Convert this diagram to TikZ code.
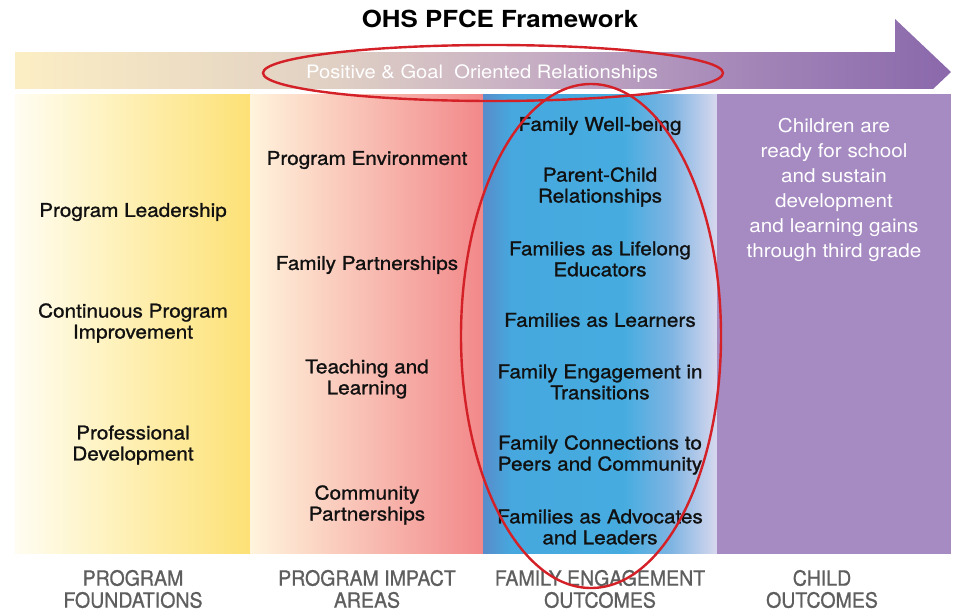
\documentclass[tikz,border=0pt]{standalone}
\usepackage{fontspec}
\setmainfont{TeX Gyre Heros}
\newfontfamily\medfont[FakeStretch=1.09, FakeBold=1.2]{TeX Gyre Heros}
\newfontfamily\widefont[FakeStretch=1.09]{TeX Gyre Heros}
\newfontfamily\condfont[FakeStretch=0.93, FakeBold=0.8]{TeX Gyre Heros}
\newfontfamily\titlefont[FakeStretch=1.1]{TeX Gyre Heros}
\usetikzlibrary{shapes.geometric}
\definecolor{txt}{HTML}{111111}
\definecolor{lbl}{HTML}{5E5E5E}
\definecolor{ring}{HTML}{D42027}
\definecolor{colpur}{HTML}{A68AC2}
% TikZ maps the path bounding box onto 25bp..75bp of the shading
\pgfdeclarehorizontalshading{arrowshade}{100bp}{color(0bp)=({rgb,255:red,252;green,238;blue,196}); color(25bp)=({rgb,255:red,252;green,238;blue,196}); color(42bp)=({rgb,255:red,224;green,208;blue,196}); color(52bp)=({rgb,255:red,200;green,176;blue,196}); color(64bp)=({rgb,255:red,164;green,134;blue,184}); color(75bp)=({rgb,255:red,138;green,104;blue,171}); color(100bp)=({rgb,255:red,138;green,104;blue,171})}
\pgfdeclarehorizontalshading{yelshade}{100bp}{color(0bp)=({rgb,255:red,255;green,253;blue,242}); color(25bp)=({rgb,255:red,255;green,253;blue,242}); color(45bp)=({rgb,255:red,254;green,242;blue,190}); color(75bp)=({rgb,255:red,253;green,225;blue,118}); color(100bp)=({rgb,255:red,253;green,225;blue,118})}
\pgfdeclarehorizontalshading{redshade}{100bp}{color(0bp)=({rgb,255:red,255;green,244;blue,220}); color(25bp)=({rgb,255:red,255;green,244;blue,220}); color(75bp)=({rgb,255:red,242;green,136;blue,138}); color(100bp)=({rgb,255:red,242;green,136;blue,138})}
\pgfdeclarehorizontalshading{blushade}{100bp}{color(0bp)=({rgb,255:red,88;green,140;blue,202}); color(25bp)=({rgb,255:red,88;green,140;blue,202}); color(31bp)=({rgb,255:red,70;green,168;blue,222}); color(55bp)=({rgb,255:red,70;green,172;blue,224}); color(65bp)=({rgb,255:red,125;green,180;blue,226}); color(75bp)=({rgb,255:red,216;green,216;blue,238}); color(100bp)=({rgb,255:red,216;green,216;blue,238})}
\tikzset{
  item/.style={text=txt, align=center, font=\medfont\fontsize{19}{21}\selectfont},
  childtxt/.style={text=white, align=center, font=\widefont\fontsize{19}{25}\selectfont},
  collabel/.style={text=lbl, align=center, font=\condfont\fontsize{21}{22}\selectfont},
  ringline/.style={draw=ring, line width=2.4pt},
}
\begin{document}
\begin{tikzpicture}[x=1pt,y=-1pt]
\useasboundingbox (0,0) rectangle (955,613);
% arrow band
\path[shading=arrowshade] (15,52) -- (895,52) -- (895,19) -- (951,72) -- (895,125) -- (895,89) -- (15,89) -- cycle;
\fill[white] (15,89) rectangle (955,94);
% columns
\path[shading=yelshade] (15,94) rectangle (250,554);
\path[shading=redshade] (250,94) rectangle (483,554);
\path[shading=blushade] (483,94) rectangle (717,554);
\fill[colpur] (717,94) rectangle (951,554);
\fill[white] (0,554) rectangle (955,613);
% title
\node[text=black, font=\titlefont\bfseries\fontsize{23.5}{26}\selectfont] (title) at (500,19) {OHS PFCE Framework};
\node[text=white, font=\widefont\fontsize{18.5}{20}\selectfont] (band) at (482,74) {Positive \& Goal\ \ Oriented Relationships};
% column 1
\node[item] (pl) at (133,212) {Program Leadership};
\node[item] (cpi) at (133,323) {Continuous Program\\Improvement};
\node[item] (pd) at (133,445) {Professional\\Development};
% column 2
\node[item] (pe) at (367,160) {Program Environment};
\node[item] (fp) at (367,265) {Family Partnerships};
\node[item] (tl) at (367,379) {Teaching and\\Learning};
\node[item] (cp) at (367,505) {Community\\Partnerships};
% column 3
\node[item] (fw) at (600,126) {Family Well-being};
\node[item] (pcr) at (600,187) {Parent-Child\\Relationships};
\node[item] (fle) at (600,259) {Families as Lifelong\\Educators};
\node[item] (fal) at (600,320) {Families as Learners};
\node[item] (fet) at (600,382) {Family Engagement in\\Transitions};
\node[item] (fcp) at (600,455) {Family Connections to\\Peers and Community};
\node[item] (faa) at (600,527) {Families as Advocates\\and Leaders};
% column 4
\node[childtxt] (child) at (834,190) {Children are\\ready for school\\and sustain\\development\\and learning gains\\through third grade};
% bottom labels
\node[collabel] (l1) at (133,589) {PROGRAM\\FOUNDATIONS};
\node[collabel] (l2) at (367,589) {PROGRAM IMPACT\\AREAS};
\node[collabel] (l3) at (600,589) {FAMILY ENGAGEMENT\\OUTCOMES};
\node[collabel] (l4) at (822,589) {CHILD\\OUTCOMES};
% red ellipses
\draw[ringline] (493,73) ellipse [x radius=230pt, y radius=28pt];
\draw[ringline] (591,336) ellipse [x radius=130pt, y radius=252pt];
\end{tikzpicture}
\end{document}
